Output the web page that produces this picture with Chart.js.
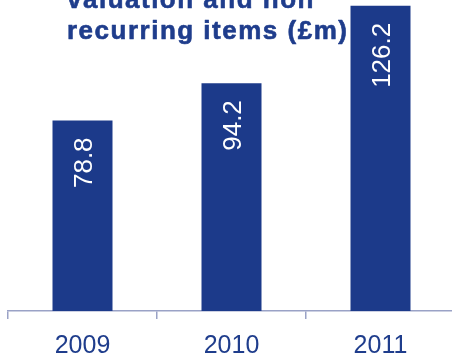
<!DOCTYPE html>
<html>
<head>
<meta charset="utf-8">
<script src="https://cdn.jsdelivr.net/npm/chart.js@4/dist/chart.umd.min.js"></script>
<style>
  html, body { margin: 0; padding: 0; background: #ffffff; overflow: hidden; }
  body { width: 452px; height: 362px; }
  canvas { display: block; }
</style>
</head>
<body>
<canvas id="chart" width="460" height="373"></canvas>
<script>
// Profit before tax, valuation and non recurring items (£m)
const years = ['2009', '2010', '2011'];
const profit = [78.8, 94.2, 126.2];
const titleLines = ['valuation and non', 'recurring items (£m)'];

const NAVY = '#1c3a8a';

// Vertical value labels inside the top of each bar
const barValueLabels = {
  id: 'barValueLabels',
  afterDatasetsDraw(chart) {
    const ctx = chart.ctx;
    const meta = chart.getDatasetMeta(0);
    const size = 26;
    ctx.save();
    ctx.font = size + 'px "Liberation Sans", Arial, sans-serif';
    ctx.fillStyle = '#ffffff';
    ctx.textAlign = 'right';
    ctx.textBaseline = 'alphabetic';
    meta.data.forEach((bar, i) => {
      ctx.save();
      ctx.translate(bar.x + 0.716 * size / 2, bar.y + 17);
      ctx.rotate(-Math.PI / 2);
      ctx.fillText(profit[i].toFixed(1), 0, 0);
      ctx.restore();
    });
    ctx.restore();
  }
};

// Two-line heading, left aligned, drawn over the plot
const heading = {
  id: 'heading',
  afterDraw(chart) {
    const ctx = chart.ctx;
    ctx.save();
    ctx.font = 'bold 26px "Liberation Sans", Arial, sans-serif';
    ctx.fillStyle = '#1f3d8c';
    ctx.strokeStyle = '#1f3d8c';
    ctx.lineWidth = 0.6;
    ctx.lineJoin = 'round';
    ctx.textAlign = 'left';
    ctx.textBaseline = 'alphabetic';
    if ('letterSpacing' in ctx) ctx.letterSpacing = '1.5px';
    titleLines.forEach((line, i) => {
      const y = 8 + i * 31;
      ctx.fillText(line, 67, y);
      ctx.strokeText(line, 67, y);
    });
    ctx.restore();
  }
};

new Chart(document.getElementById('chart'), {
  type: 'bar',
  data: {
    labels: years,
    datasets: [{
      data: profit,
      backgroundColor: NAVY,
      borderWidth: 0,
      categoryPercentage: 1,
      barPercentage: 60 / 149
    }]
  },
  options: {
    responsive: false,
    animation: false,
    layout: { padding: { left: 8, right: 5, top: 0, bottom: 0 } },
    plugins: {
      legend: { display: false },
      tooltip: { enabled: false },
      title: { display: false }
    },
    scales: {
      x: {
        offset: true,
        grid: {
          display: true,
          offset: true,
          drawOnChartArea: false,
          drawTicks: true,
          tickLength: 8,
          color: '#9aa2c6',
          lineWidth: 1.5
        },
        border: { display: true, color: '#9aa2c6', width: 1.5 },
        ticks: {
          color: '#1f3d8c',
          padding: 12,
          font: { family: '"Liberation Sans", Arial, sans-serif', size: 25 }
        }
      },
      y: {
        display: false,
        min: 0,
        max: 128.6
      }
    }
  },
  plugins: [barValueLabels, heading]
});
</script>
</body>
</html>
